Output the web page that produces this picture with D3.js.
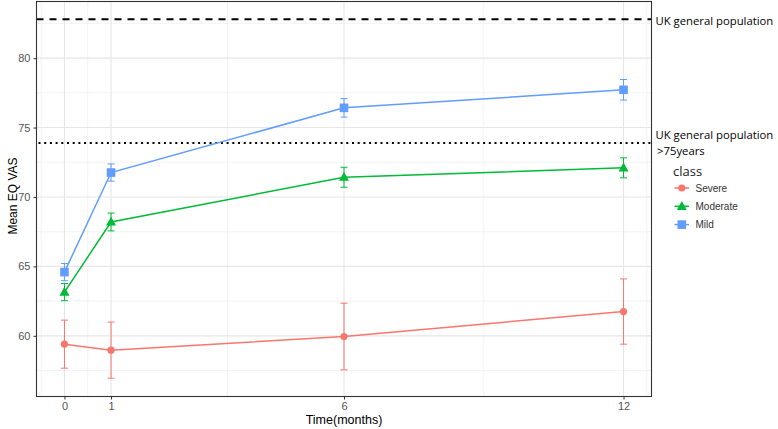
<!DOCTYPE html>
<html><head><meta charset="utf-8">
<script src="https://cdn.jsdelivr.net/npm/d3@7"></script>
<style>body{margin:0;background:#fff}svg{display:block}</style>
</head><body>
<script>
const months = [0, 1, 6, 12];
const classes = ["Severe", "Moderate", "Mild"];
const severeMean = [59.40, 58.97, 59.95, 61.75];
const severeErr  = [1.73, 2.02, 2.40, 2.35];
const moderateMean = [63.15, 68.20, 71.42, 72.10];
const moderateErr  = [0.62, 0.64, 0.72, 0.72];
const mildMean = [64.59, 71.76, 76.42, 77.72];
const mildErr  = [0.62, 0.62, 0.67, 0.74];
const yTicks = [60, 65, 70, 75, 80];
const yMinor = [57.5, 62.5, 67.5, 72.5, 77.5, 82.5];
const xMinor = [-0.5, 0.5, 3.5, 9, 12.5];
const ukGeneral = 82.8;
const ukOver75 = 73.88;
const colors = ["#F8766D", "#00BA38", "#619CFF"];
const shapes = ["circle", "triangle", "square"];

const W = 778, H = 429;
const P = {l: 36.5, r: 651.5, t: 1.5, b: 396.5};
const svg = d3.select("body").append("svg").attr("width", W).attr("height", H);
const x = d3.scaleLinear().domain([-0.6, 12.6]).range([P.l, P.r]);
const y = d3.scaleLinear().domain([55.63, 84.08]).range([P.b, P.t]);

const series = [
  {name: classes[0], mean: severeMean, err: severeErr},
  {name: classes[1], mean: moderateMean, err: moderateErr},
  {name: classes[2], mean: mildMean, err: mildErr}
];

// grid
const g = svg.append("g");
g.selectAll(".ym").data(yMinor).join("line")
  .attr("x1", P.l).attr("x2", P.r).attr("y1", d => y(d)).attr("y2", d => y(d))
  .attr("stroke", "#ebebeb").attr("stroke-width", 0.6);
g.selectAll(".xm").data(xMinor).join("line")
  .attr("y1", P.t).attr("y2", P.b).attr("x1", d => x(d)).attr("x2", d => x(d))
  .attr("stroke", "#ebebeb").attr("stroke-width", 0.6);
g.selectAll(".yM").data(yTicks).join("line")
  .attr("x1", P.l).attr("x2", P.r).attr("y1", d => y(d)).attr("y2", d => y(d))
  .attr("stroke", "#e6e6e6").attr("stroke-width", 1.1);
g.selectAll(".xM").data(months).join("line")
  .attr("y1", P.t).attr("y2", P.b).attr("x1", d => x(d)).attr("x2", d => x(d))
  .attr("stroke", "#e6e6e6").attr("stroke-width", 1.1);

// reference lines
svg.append("line").attr("x1", P.l).attr("x2", P.r).attr("y1", y(ukGeneral)).attr("y2", y(ukGeneral))
  .attr("stroke", "#000").attr("stroke-width", 1.8).attr("stroke-dasharray", "7,6");
svg.append("line").attr("x1", P.l + 2).attr("x2", P.r).attr("y1", y(ukOver75)).attr("y2", y(ukOver75))
  .attr("stroke", "#000").attr("stroke-width", 2).attr("stroke-dasharray", "2,3.7");

function symbol(sel, shape, color, cx, cy) {
  if (shape === "circle") sel.append("circle").attr("cx", cx).attr("cy", cy).attr("r", 3.6).attr("fill", color);
  else if (shape === "square") sel.append("rect").attr("x", cx - 4.3).attr("y", cy - 4.3).attr("width", 8.6).attr("height", 8.6).attr("fill", color);
  else sel.append("path").attr("d", `M${cx},${cy - 5.3}L${cx + 5},${cy + 3.6}L${cx - 5},${cy + 3.6}Z`).attr("fill", color);
}

const line = d3.line().x(d => x(d[0])).y(d => y(d[1]));
series.forEach((s, i) => {
  const gs = svg.append("g");
  const pts = months.map((m, j) => [m, s.mean[j], s.err[j]]);
  pts.forEach(p => {
    const cx = x(p[0]);
    gs.append("line").attr("x1", cx).attr("x2", cx).attr("y1", y(p[1] - p[2])).attr("y2", y(p[1] + p[2]))
      .attr("stroke", colors[i]).attr("stroke-width", 1);
    [p[1] - p[2], p[1] + p[2]].forEach(v => gs.append("line").attr("x1", cx - 3.5).attr("x2", cx + 3.5)
      .attr("y1", y(v)).attr("y2", y(v)).attr("stroke", colors[i]).attr("stroke-width", 1));
  });
  gs.append("path").datum(pts).attr("d", line).attr("fill", "none").attr("stroke", colors[i]).attr("stroke-width", 1.5);
  pts.forEach(p => symbol(gs, shapes[i], colors[i], x(p[0]), y(p[1])));
});

// panel border
svg.append("rect").attr("x", P.l).attr("y", P.t).attr("width", P.r - P.l).attr("height", P.b - P.t)
  .attr("fill", "none").attr("stroke", "#333").attr("stroke-width", 1.1);

// axes
const font = "'Liberation Sans', Arial, sans-serif";
const xAxis = svg.append("g").attr("transform", `translate(0,${P.b})`)
  .call(d3.axisBottom(x).tickValues(months).tickSize(3).tickPadding(3));
const yAxis = svg.append("g").attr("transform", `translate(${P.l},0)`)
  .call(d3.axisLeft(y).tickValues(yTicks).tickSize(3).tickPadding(3));
[xAxis, yAxis].forEach(a => {
  a.select(".domain").remove();
  a.selectAll(".tick line").attr("stroke", "#333");
  a.selectAll(".tick text").attr("fill", "#555").style("font-family", font).style("font-size", "11px");
});

svg.append("text").attr("x", (P.l + P.r) / 2).attr("y", 424).attr("text-anchor", "middle")
  .style("font-family", font).style("font-size", "12.5px").attr("fill", "#000").text("Time(months)");
svg.append("text").attr("transform", `translate(16.5,${(P.t + P.b) / 2 - 3}) rotate(-90)`).attr("text-anchor", "middle")
  .style("font-family", font).style("font-size", "12px").attr("fill", "#000").text("Mean EQ VAS");

// annotations
const afont = "'Open Sans', 'Noto Sans', sans-serif";
svg.append("text").attr("x", 655.5).attr("y", 24.5).style("font-family", afont).style("font-size", "11.3px").text("UK general population");
svg.append("text").attr("x", 655.5).attr("y", 139).style("font-family", afont).style("font-size", "11.3px").text("UK general population");
svg.append("text").attr("x", 657).attr("y", 155).style("font-family", afont).style("font-size", "11.3px").text(">75years");

// legend
svg.append("text").attr("x", 673).attr("y", 176).style("font-family", afont).style("font-size", "13px").attr("fill", "#222").text("class");
classes.forEach((c, i) => {
  const ly = 188 + i * 18.3;
  const lg = svg.append("g");
  lg.append("line").attr("x1", 674.5).attr("x2", 689).attr("y1", ly).attr("y2", ly).attr("stroke", colors[i]).attr("stroke-width", 1.5);
  symbol(lg, shapes[i], colors[i], 681.8, ly);
  lg.append("text").attr("x", 695.5).attr("y", ly + 3.8).style("font-family", font).style("font-size", "10px").attr("fill", "#333").text(c);
});
</script>
</body></html>
